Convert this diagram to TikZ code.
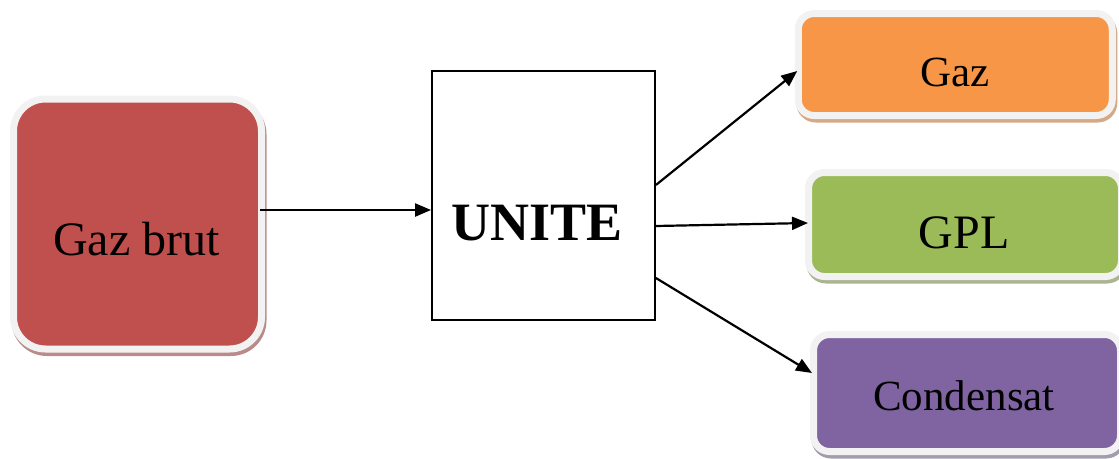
\documentclass[tikz,border=0pt]{standalone}
\usepackage{fontspec}
\setmainfont{Liberation Serif}
\usetikzlibrary{arrows.meta,calc}
\definecolor{rimgray}{HTML}{F2F2F2}
\definecolor{cred}{HTML}{C0504D}
\definecolor{corange}{HTML}{F79646}
\definecolor{cgreen}{HTML}{9BBB59}
\definecolor{cpurple}{HTML}{8064A2}
\definecolor{sred}{HTML}{B98C8B}
\definecolor{sorange}{HTML}{D6A884}
\definecolor{sgreen}{HTML}{AAB48E}
\definecolor{spurple}{HTML}{A39CAE}
\tikzset{
  card/.style n args={3}{rounded corners=#3, fill=#1, draw=rimgray, line width=7pt,
    preaction={fill=#2, draw=#2, transform canvas={shift={(1.5pt,-3.5pt)}}},
    inner sep=0pt},
  lbl/.style={inner sep=0pt},
  flow/.style={line width=2.2pt, -{Triangle[length=16pt,width=13pt]}},
}
\begin{document}
\begin{tikzpicture}[x=1pt,y=-1pt]
\useasboundingbox (0,0) rectangle (1119,458);
% source block
\node[card={cred}{sred}{32pt}, minimum width=248pt, minimum height=250pt] (gazbrut) at (137.5,224) {};
\node[lbl, font=\fontsize{48}{50}\selectfont] (gazbrutT) at (136.5,239) {Gaz brut};
% processing unit
\node[draw, line width=1.8pt, fill=white, minimum width=223pt, minimum height=249pt, inner sep=0pt] (unite) at (543.5,195.4) {};
\node[lbl, font=\fontsize{54}{56}\selectfont\bfseries] (uniteT) at (537.5,223) {UNITE};
% products
\node[card={corange}{sorange}{16pt}, minimum width=314pt, minimum height=102pt] (gaz) at (955.25,64.5) {};
\node[lbl, font=\fontsize{43}{45}\selectfont] (gazT) at (955,72.5) {Gaz};
\node[card={cgreen}{sgreen}{16pt}, minimum width=313pt, minimum height=104pt] (gpl) at (965,224.5) {};
\node[lbl, font=\fontsize{48}{50}\selectfont] (gplT) at (964,233) {GPL};
\node[card={cpurple}{spurple}{16pt}, minimum width=307pt, minimum height=117pt] (cond) at (967,393) {};
\node[lbl, font=\fontsize{43}{45}\selectfont] (condT) at (964,395.5) {Condensat};
% connectors
\draw[flow] ($(gazbrut.east)+(-5,-14)$) -- ($(unite.west)+(0,14.6)$);
\draw[flow] ($(unite.east)+(0,-10.4)$) -- ($(gaz.west)+(2.5,6.5)$);
\draw[flow] ($(unite.east)+(0,30.6)$) -- ($(gpl.west)+(3,-1.5)$);
\draw[flow] ($(unite.east)+(0,82.6)$) -- ($(cond.west)+(2,-20)$);
\end{tikzpicture}
\end{document}
